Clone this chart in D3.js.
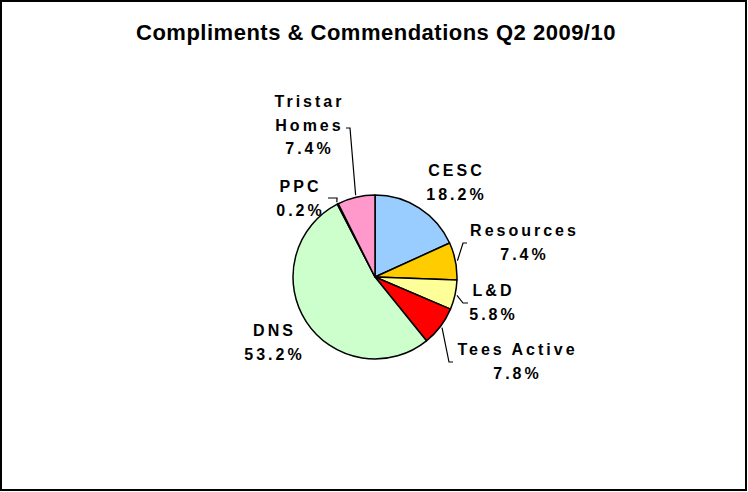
<!DOCTYPE html>
<html>
<head>
<meta charset="utf-8">
<script src="https://cdn.jsdelivr.net/npm/d3@7"></script>
<style>
  html, body { margin: 0; padding: 0; background: #fff; }
  svg { display: block; }
  text { font-family: Arial, "Liberation Sans", sans-serif; font-weight: bold; fill: #000; }
</style>
</head>
<body>
<svg id="chart" width="748" height="492"></svg>
<script>
// data, clockwise from 12 o'clock
var categories = ["CESC", "Resources", "L&D", "Tees Active", "DNS", "PPC", "Tristar Homes"];
var values = [18.2, 7.4, 5.8, 7.8, 53.2, 0.2, 7.4];
var colours = ["#99CCFF", "#FFCC00", "#FFFF99", "#FF0000", "#CCFFCC", "#993366", "#FF99CC"];
var title = "Compliments & Commendations Q2 2009/10";

var W = 748, H = 492,
    cx = 375, cy = 277, r = 82;

// where Excel put each label (centre x, first baseline) and the leader elbow / tick end
var layout = {
  "CESC":          { x: 455, y: 176 },
  "Resources":     { x: 523, y: 236, elbow: [463, 243], tick: [467, 243] },
  "L&D":           { x: 492, y: 296, elbow: [463, 303], tick: [468, 303] },
  "Tees Active":   { x: 516, y: 355, elbow: [449, 362], tick: [453, 362] },
  "DNS":           { x: 273, y: 336 },
  "PPC":           { x: 299, y: 192, elbow: [337, 198], tick: [328, 198] },
  "Tristar Homes": { x: 308, y: 107, split: true, elbow: [350, 128], tick: [346, 128] }
};

var svg = d3.select("#chart");

svg.append("rect")
    .attr("x", 1).attr("y", 1)
    .attr("width", W - 3).attr("height", H - 3)
    .attr("fill", "#fff")
    .attr("stroke", "#000")
    .attr("stroke-width", 2);

svg.append("text")
    .attr("x", 376)
    .attr("y", 40)
    .attr("text-anchor", "middle")
    .style("font-size", "22px")
    .style("letter-spacing", "0.5px")
    .text(title);

var slices = categories.map(function(c, i) {
  return { name: c, value: values[i], colour: colours[i] };
});

var pie = d3.pie().sort(null).value(function(d) { return d.value; });
var arc = d3.arc().innerRadius(0).outerRadius(r);
var edge = d3.arc().innerRadius(r + 2).outerRadius(r + 2);

var g = svg.append("g").attr("transform", "translate(" + cx + "," + cy + ")");
var arcs = pie(slices);

g.selectAll("path.slice")
  .data(arcs)
  .enter().append("path")
    .attr("class", "slice")
    .attr("d", arc)
    .attr("fill", function(d) { return d.data.colour; })
    .attr("stroke", "#000")
    .attr("stroke-width", 1.5)
    .attr("stroke-linejoin", "round");

// leader lines
arcs.forEach(function(d) {
  var L = layout[d.data.name];
  if (!L.elbow) return;
  var p = edge.centroid(d);
  var pts = [[cx + p[0], cy + p[1]], L.elbow, L.tick];
  svg.append("path")
      .attr("d", d3.line()(pts))
      .attr("fill", "none")
      .attr("stroke", "#000")
      .attr("stroke-width", 1.2);
});

// labels
var ls = 3, lineH = 23.5;
arcs.forEach(function(d) {
  var L = layout[d.data.name];
  var lines = L.split ? d.data.name.split(" ") : [d.data.name];
  lines.push(d3.format(".1f")(d.data.value) + "%");
  var t = svg.append("text")
      .attr("text-anchor", "middle")
      .style("font-size", "16px")
      .style("letter-spacing", ls + "px");
  lines.forEach(function(s, i) {
    t.append("tspan")
        .attr("x", L.x + ls / 2)
        .attr("y", L.y + i * lineH)
        .text(s);
  });
});
</script>
</body>
</html>
